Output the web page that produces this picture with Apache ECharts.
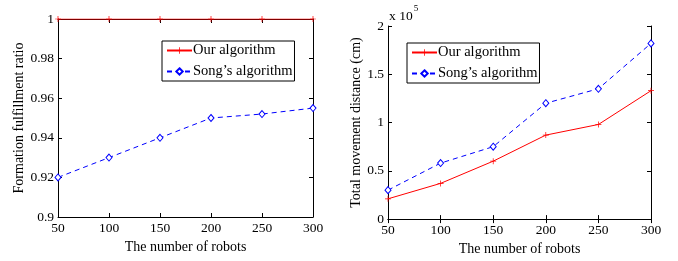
<!DOCTYPE html>
<html>
<head>
<meta charset="utf-8">
<script src="https://cdn.jsdelivr.net/npm/echarts@6/dist/echarts.min.js"></script>
<style>html,body{margin:0;padding:0;background:#fff}#c{width:678px;height:261px}</style>
</head>
<body>
<div id="c"></div>
<script>
const robots = [50, 100, 150, 200, 250, 300];
const ratioOurs = [1, 1, 1, 1, 1, 1];
const ratioSong = [0.92, 0.93, 0.94, 0.95, 0.952, 0.955];
const distOurs = [21000, 37000, 60000, 87000, 98000, 133000];
const distSong = [30000, 58000, 75000, 120000, 135000, 182000];
const seriesNames = ['Our algorithm', 'Song\u2019s algorithm'];

const FONT = 'Liberation Serif';
const plusPath = 'path://M4.4,0H5.6V4.4H10V5.6H5.6V10H4.4V5.6H0V4.4H4.4Z';
const pairs = (ys) => robots.map((x, i) => [x, ys[i]]);

function xAxes(gi) {
  return [
    {type:'value', gridIndex:gi, position:'bottom', min:50, max:300, interval:50,
     name:'The number of robots', nameLocation:'middle', nameGap:18,
     nameTextStyle:{fontFamily:FONT, fontSize:14, color:'#000'},
     axisLine:{lineStyle:{color:'#000', width:1}},
     axisTick:{inside:true, length:4, lineStyle:{color:'#000'}},
     axisLabel:{fontFamily:FONT, fontSize:13.5, color:'#000', margin:4},
     splitLine:{show:false}},
    {type:'value', gridIndex:gi, position:'top', min:50, max:300, interval:50,
     axisLine:{lineStyle:{color:'#000', width:1}},
     axisTick:{inside:true, length:4, lineStyle:{color:'#000'}},
     axisLabel:{show:false}, splitLine:{show:false}}
  ];
}
function yAxes(gi, min, max, interval, name, nameGap, fmt) {
  return [
    {type:'value', gridIndex:gi, position:'left', min:min, max:max, interval:interval,
     name:name, nameLocation:'middle', nameGap:nameGap,
     nameTextStyle:{fontFamily:FONT, fontSize:14, color:'#000'},
     axisLine:{show:true, lineStyle:{color:'#000', width:1}},
     axisTick:{show:true, inside:true, length:4, lineStyle:{color:'#000'}},
     axisLabel:{fontFamily:FONT, fontSize:13.5, color:'#000', margin:4, formatter:fmt},
     splitLine:{show:false}},
    {type:'value', gridIndex:gi, position:'right', min:min, max:max, interval:interval,
     axisLine:{show:true, lineStyle:{color:'#000', width:1}},
     axisTick:{show:true, inside:true, length:4, lineStyle:{color:'#000'}},
     axisLabel:{show:false}, splitLine:{show:false}}
  ];
}
function ours(gi, data) {
  return {name:seriesNames[0], type:'line', xAxisIndex:gi*2, yAxisIndex:gi*2, data:pairs(data),
    symbol:plusPath, symbolSize:6, color:'#ff0000',
    lineStyle:{color:'#ff0000', width:1}, itemStyle:{color:'#ff0000'}, z:3, animation:false};
}
function song(gi, data) {
  return {name:seriesNames[1], type:'line', xAxisIndex:gi*2, yAxisIndex:gi*2, data:pairs(data),
    symbol:'diamond', symbolSize:[6,7], color:'#0000ff',
    lineStyle:{color:'#0000ff', width:1, type:[5,4]},
    itemStyle:{color:'#fff', borderColor:'#0000ff', borderWidth:1}, z:3, animation:false};
}
function legend(left, top) {
  return {left:left, top:top, orient:'vertical', itemWidth:25, itemHeight:8, itemGap:6,
    padding:[2,2,2,4], data:seriesNames,
    backgroundColor:'#fff', borderColor:'#000', borderWidth:1,
    textStyle:{fontFamily:FONT, fontSize:14.5, color:'#000', padding:[0,0,0,-4]}};
}

const chart = echarts.init(document.getElementById('c'), null, {renderer:'canvas'});
chart.setOption({
  animation:false,
  backgroundColor:'#fff',
  grid:[
    {left:58, top:19, width:255, height:198},
    {left:388, top:26, width:263, height:196}
  ],
  xAxis:[...xAxes(0), ...xAxes(1)],
  yAxis:[
    ...yAxes(0, 0.9, 1, 0.02, 'Formation fulfillment ratio', 30, null),
    ...yAxes(1, 0, 200000, 50000, 'Total movement distance (cm)', 22, v => String(v/100000))
  ],
  legend:[legend(162, 41), legend(407, 43)],
  graphic:[{
    type:'text', left:389, top:4,
    style:{text:'{a|x 10}{b|5}', rich:{
      a:{fontFamily:FONT, fontSize:13.5, fill:'#000', padding:[9,0,0,0]},
      b:{fontFamily:FONT, fontSize:9, fill:'#000', padding:[0,0,6,1]}
    }}
  }],
  series:[ours(0, ratioOurs), song(0, ratioSong), ours(1, distOurs), song(1, distSong)]
});
</script>
</body>
</html>
